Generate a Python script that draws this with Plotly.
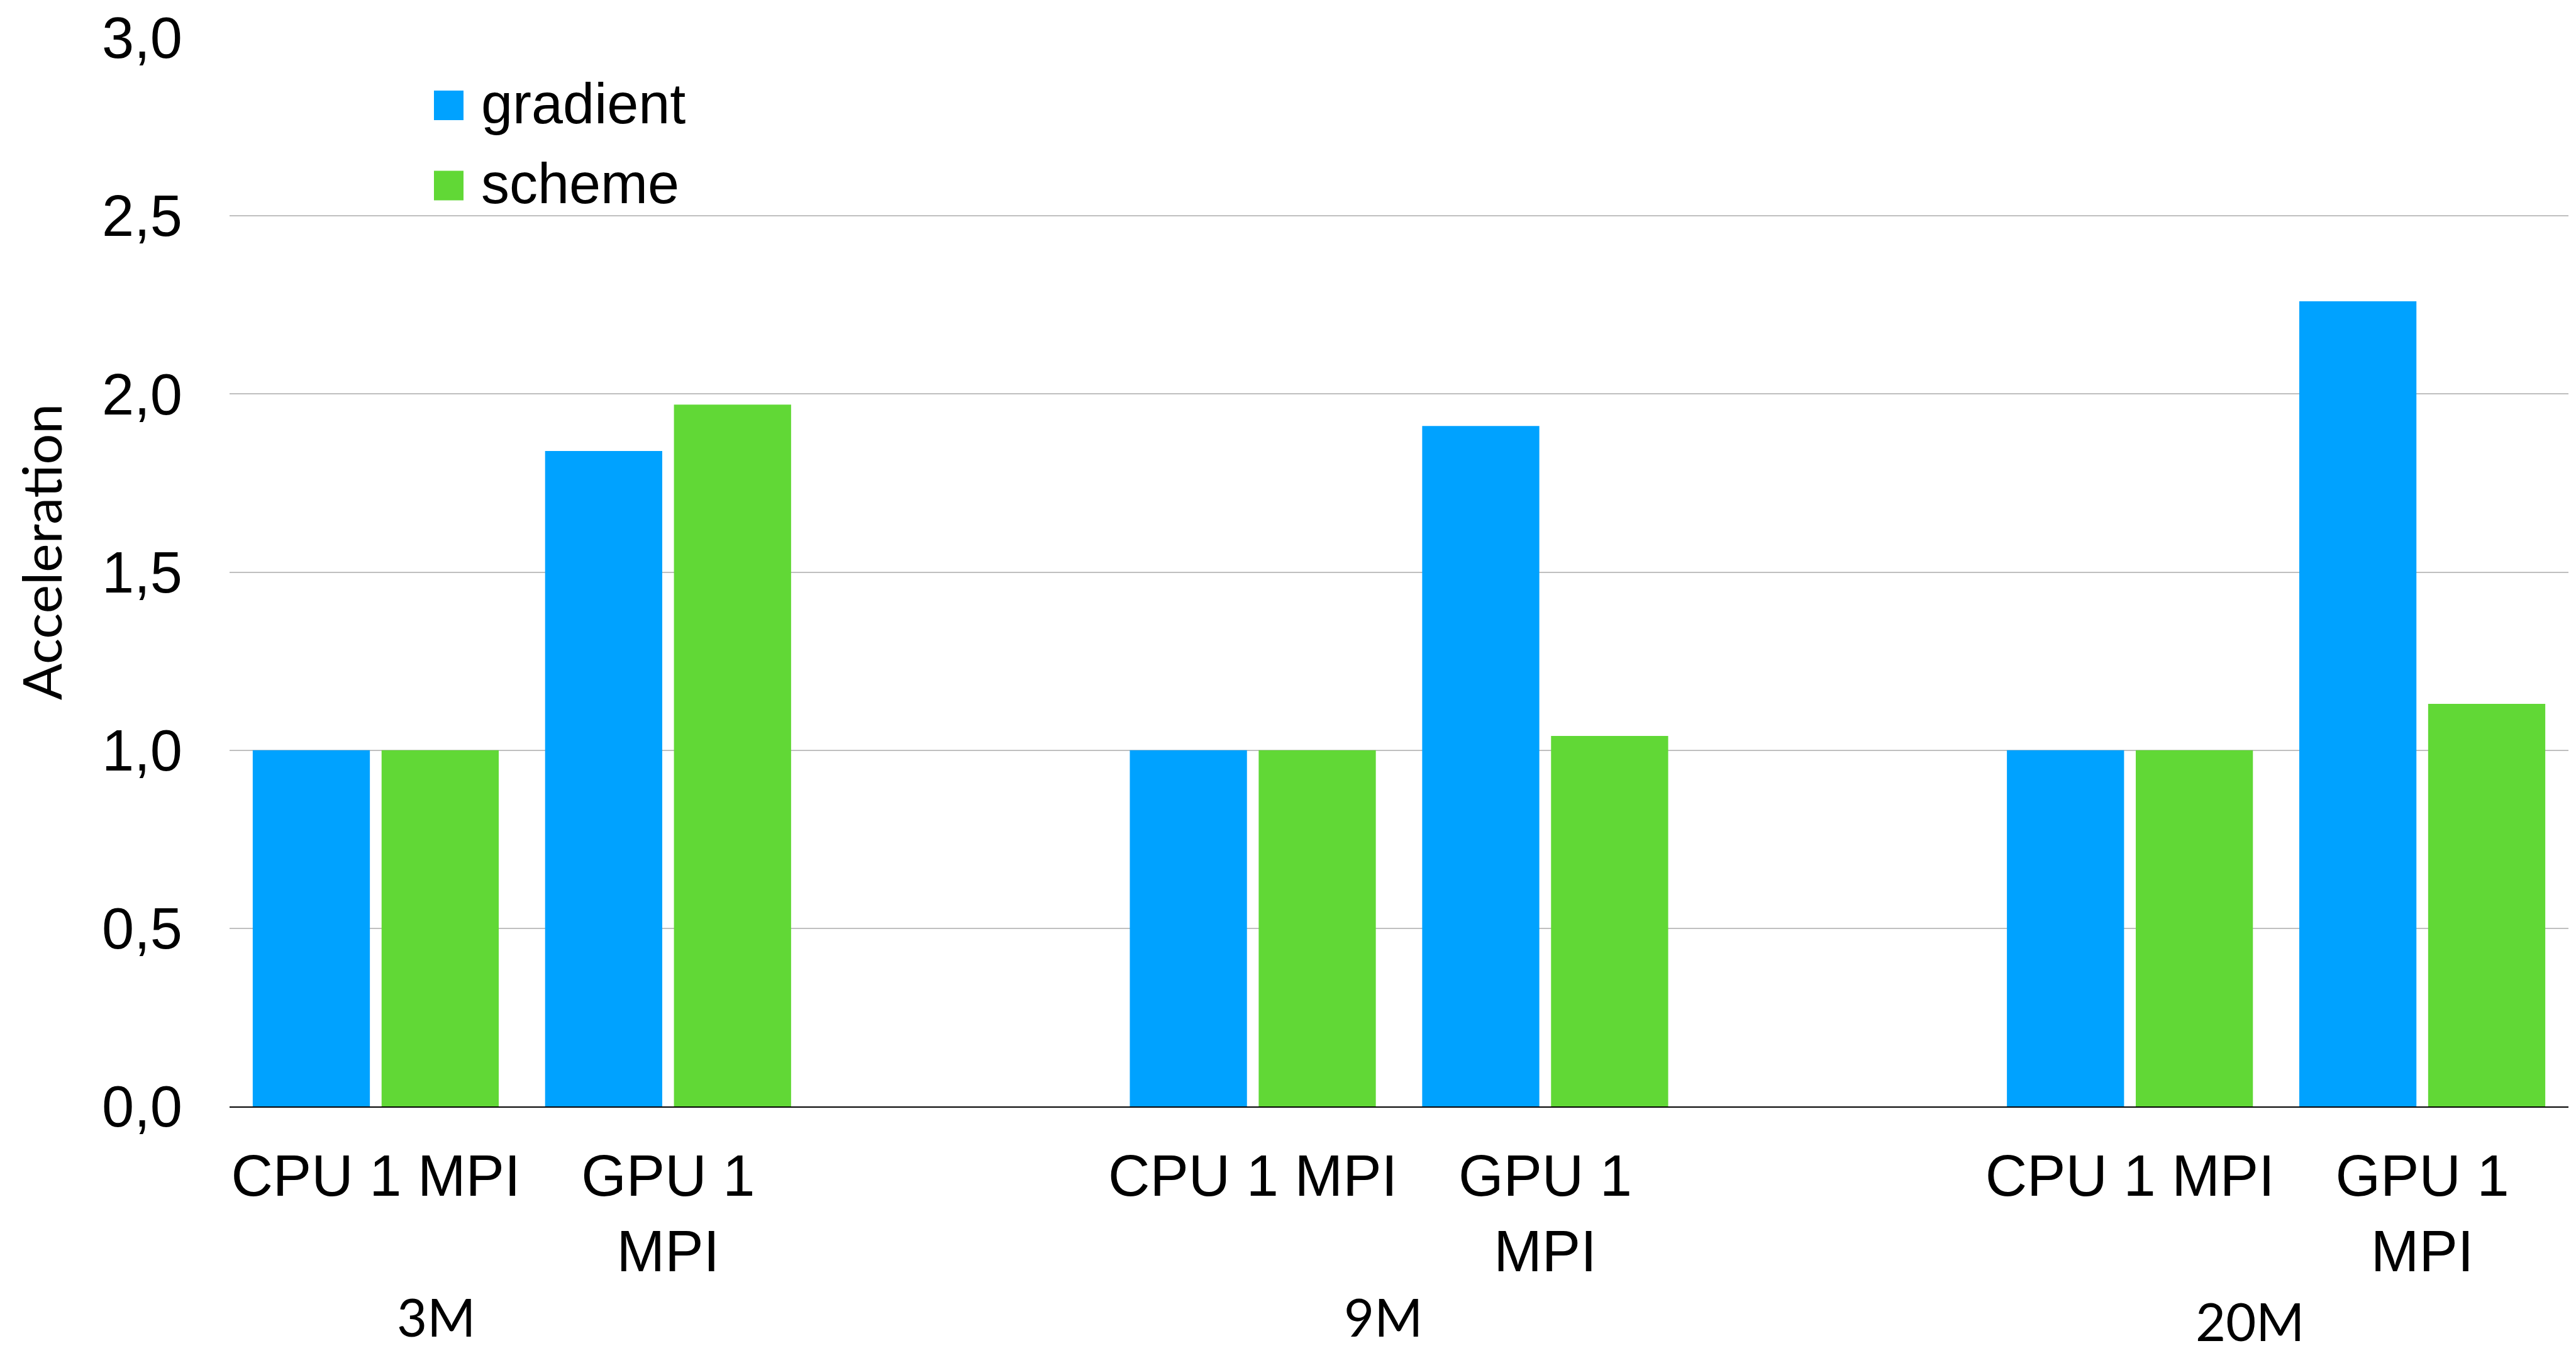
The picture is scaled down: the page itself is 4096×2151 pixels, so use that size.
import plotly.graph_objects as go

# ---- data -------------------------------------------------------------
groups = ["3M", "9M", "20M"]
configs = ["CPU 1 MPI", "GPU 1<br>MPI"]
gradient = [1.00, 1.84, 1.00, 1.91, 1.00, 2.26]
scheme = [1.00, 1.97, 1.00, 1.04, 1.00, 1.13]
y_ticks = [0.0, 0.5, 1.0, 1.5, 2.0, 2.5, 3.0]
y_ticklabels = ["0,0", "0,5", "1,0", "1,5", "2,0", "2,5", "3,0"]
series_names = ["gradient", "scheme"]
series_colors = ["#00A2FF", "#61D836"]

# each group occupies two category slots followed by one empty slot
x_pos = [3 * gi + ci for gi in range(len(groups)) for ci in range(len(configs))]
x_text = [configs[ci] for gi in range(len(groups)) for ci in range(len(configs))]

# ---- canvas geometry (pixels) ----------------------------------------
W, H = 4096, 2151
L, R, T, B = 365, 4084, 60, 1759
PW, PH = R - L, B - T


def px_x(px):
    return (px - L) / PW


def px_y(py):
    return (B - py) / PH


ARIAL = "Liberation Sans, Arial, sans-serif"
CALIBRI = "Lato, Carlito, Calibri, sans-serif"

fig = go.Figure()
for name, vals, col in zip(series_names, [gradient, scheme], series_colors):
    fig.add_trace(go.Bar(
        x=x_pos, y=vals, name=name,
        marker=dict(color=col, line=dict(width=0)),
        showlegend=False,
    ))

shapes = []
annotations = []

# legend: colored squares with labels
leg_rows = [(144.1, 191.1), (271.5, 318.5)]
for (y0, y1), name, col in zip(leg_rows, series_names, series_colors):
    shapes.append(dict(
        type="rect", xref="paper", yref="paper",
        x0=px_x(690), x1=px_x(737), y0=px_y(y1), y1=px_y(y0),
        fillcolor=col, line=dict(width=0),
    ))
    annotations.append(dict(
        text=name, xref="paper", yref="paper",
        x=px_x(763), y=px_y((y0 + y1) / 2 - 3),
        xanchor="left", yanchor="middle", showarrow=False,
        font=dict(family=ARIAL, size=90, color="black"),
    ))

# group labels under the category labels
group_centers = [(693, 2093), (2199, 2093), (3577, 2100)]
for g, (gx, gy) in zip(groups, group_centers):
    annotations.append(dict(
        text=g, xref="paper", yref="paper",
        x=px_x(gx), y=px_y(gy),
        xanchor="center", yanchor="middle", showarrow=False,
        font=dict(family=CALIBRI, size=83, color="black"),
    ))

# y-axis title
annotations.append(dict(
    text="Acceleration", xref="paper", yref="paper",
    x=px_x(64), y=px_y(878), textangle=-90,
    xanchor="center", yanchor="middle", showarrow=False,
    font=dict(family=CALIBRI, size=86, color="black"),
))

fig.update_layout(
    width=W, height=H,
    margin=dict(l=L, r=W - R, t=T, b=H - B, pad=0),
    paper_bgcolor="white", plot_bgcolor="white",
    barmode="group", bargap=0.1185, bargroupgap=0.0909,
    shapes=shapes, annotations=annotations,
    showlegend=False,
)
fig.update_xaxes(
    range=[-0.5, 7.5], tickmode="array", tickvals=x_pos, ticktext=x_text,
    showgrid=False, zeroline=False, showline=True, linecolor="black", linewidth=2,
    ticks="", ticklabelstandoff=30, automargin=False,
    tickfont=dict(family=ARIAL, size=92, color="black"),
)
fig.update_yaxes(
    range=[0, 3], tickmode="array", tickvals=y_ticks, ticktext=y_ticklabels,
    showgrid=True, gridcolor="#BFBFBF", gridwidth=2,
    zeroline=False, showline=False, ticks="", ticklabelstandoff=74,
    automargin=False,
    tickfont=dict(family=ARIAL, size=92, color="black"),
)

fig.write_html("out.html")
